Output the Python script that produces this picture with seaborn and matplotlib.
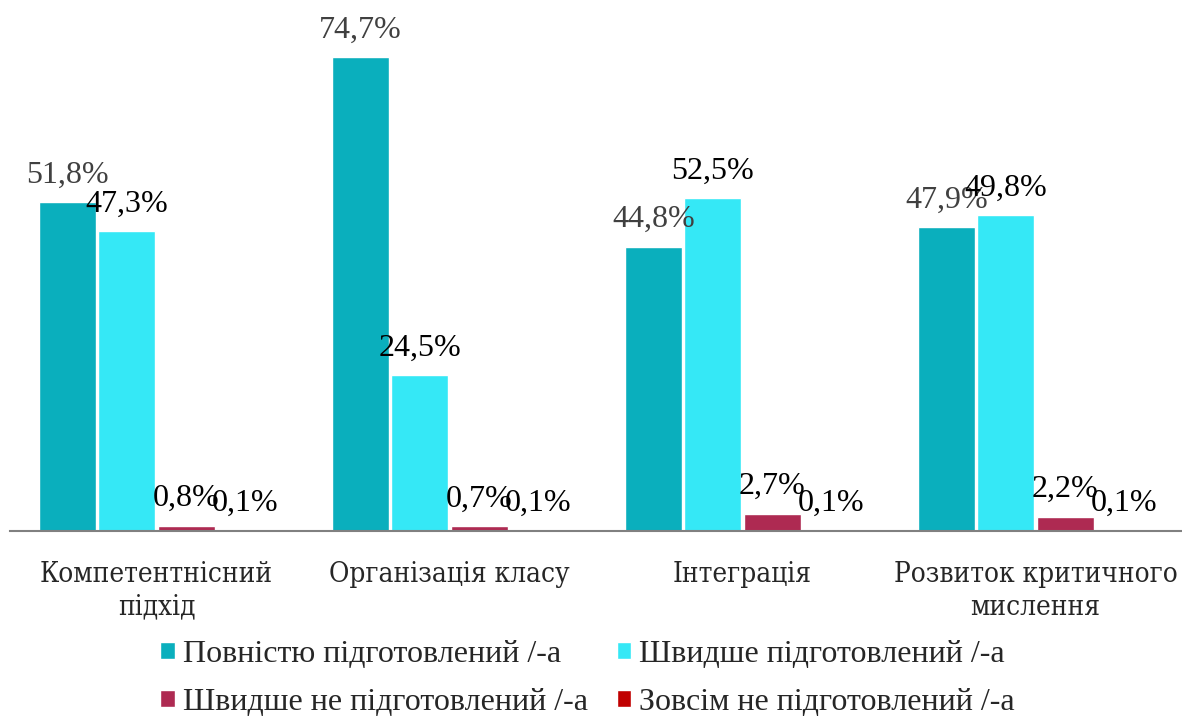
import pandas as pd
import matplotlib.pyplot as plt
import seaborn as sns

categories = ["Компетентнісний\nпідхід", "Організація класу", "Інтеграція", "Розвиток критичного\nмислення"]
series = ["Повністю підготовлений /-а", "Швидше підготовлений /-а",
          "Швидше не підготовлений /-а", "Зовсім не підготовлений /-а"]
full_ready = [51.8, 74.7, 44.8, 47.9]
rather_ready = [47.3, 24.5, 52.5, 49.8]
rather_not = [0.8, 0.7, 2.7, 2.2]
not_ready = [0.1, 0.1, 0.1, 0.1]
colors = ["#0AAFBD", "#35E8F6", "#AE2A52", "#C00000"]
label_colors = ["#404040", "black", "black", "black"]

rows = []
for s, vals in zip(series, [full_ready, rather_ready, rather_not, not_ready]):
    for c, v in zip(categories, vals):
        rows.append({"cat": c, "series": s, "value": v})
df = pd.DataFrame(rows)

sns.set_style("white")
fig = plt.figure(figsize=(11.82, 7.27), dpi=100)
ax = fig.add_axes([0.0085, 0.27, 0.9915, 0.70])

sns.barplot(data=df, x="cat", y="value", hue="series", palette=colors,
            width=0.81, gap=0.04, ax=ax, saturation=1, legend=True)

ax.set_ylim(0, 80.3)
for i, cont in enumerate(ax.containers):
    labels = [f"{v:.1f}%".replace(".", ",") for v in cont.datavalues]
    ax.bar_label(cont, labels=labels, padding=9, fontsize=23,
                 family="Liberation Serif", color=label_colors[i])

ax.set_xlabel("")
ax.set_ylabel("")
ax.set_yticks([])
for side in ["left", "right", "top"]:
    ax.spines[side].set_visible(False)
ax.spines["bottom"].set_color("#808080")
ax.spines["bottom"].set_linewidth(1.5)
ax.tick_params(axis="x", length=0, pad=22)
for t in ax.get_xticklabels():
    t.set_fontsize(20)
    t.set_family("DejaVu Serif")
    t.set_stretch("condensed")
    t.set_linespacing(1.25)

handles, labels = ax.get_legend_handles_labels()
ax.get_legend().remove()
order = [0, 2, 1, 3]
fig.legend([handles[i] for i in order], [labels[i] for i in order],
           loc="upper center", bbox_to_anchor=(0.497, 0.151), ncol=2, frameon=False,
           prop={"family": "Liberation Serif", "size": 23}, handlelength=0.45,
           handleheight=0.45, handletextpad=0.25, columnspacing=0.9, labelspacing=0.6,
           borderaxespad=0.3)

plt.savefig("out.png", dpi=100)
